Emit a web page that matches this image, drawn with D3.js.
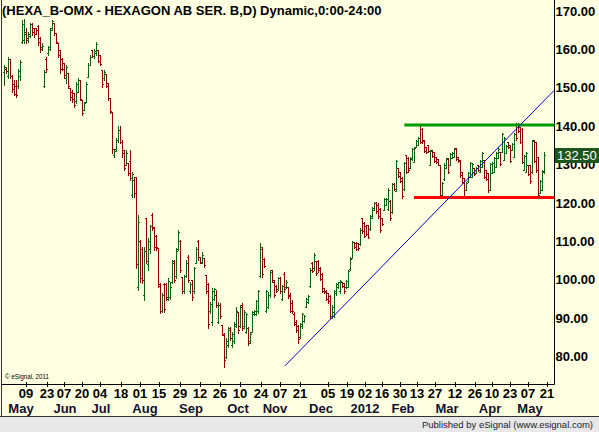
<!DOCTYPE html>
<html>
<head>
<meta charset="utf-8">
<script src="https://cdn.jsdelivr.net/npm/d3@7"></script>
<style>
  html, body { margin: 0; padding: 0; background: #ffffe1; }
  svg { display: block; font-family: "Liberation Sans", Arial, sans-serif; }
</style>
</head>
<body>
<div id="chart"></div>
<script>
const width = 599, height = 432;
const plot = { left: 1.5, right: 554.5, top: 0, bottom: 384.5 };

// daily bars, HEXA B, 20 Apr 2011 .. 16 May 2012 (index = trading day)
const opens = [
  154.0,155.0,153.0,157.5,153.0,151.0,150.5,150.5,153.0,162.0,
  162.5,164.5,162.5,163.5,166.5,165.5,165.5,166.0,163.0,160.5,
  150.5,157.5,159.0,160.0,165.5,167.0,164.3,161.7,159.8,157.5,
  156.5,152.5,153.9,150.0,149.0,148.6,146.5,149.0,152.0,146.8,
  144.2,146.3,152.8,156.0,159.8,158.3,159.0,159.8,158.5,154.6,
  152.5,153.5,151.3,147.3,143.7,132.5,134.0,136.5,139.0,136.0,
  133.8,130.0,130.4,131.0,122.0,126.0,126.8,98.0,110.0,108.0,
  96.0,116.0,104.0,108.0,117.0,113.8,111.5,108.3,99.0,92.0,
  99.0,99.0,95.0,95.5,99.5,105.0,101.0,108.0,110.0,100.8,
  97.0,101.0,106.0,97.0,100.0,97.0,104.5,110.0,105.9,104.5,
  105.7,101.3,99.0,92.0,89.0,95.0,96.0,89.0,93.5,88.2,
  85.5,80.0,83.0,87.5,83.0,84.0,88.0,91.5,88.0,93.5,
  88.0,86.5,87.5,84.0,86.5,91.0,91.0,92.0,101.0,108.0,
  105.5,92.0,93.0,96.0,102.5,99.5,98.5,97.5,100.5,95.0,
  101.5,98.0,98.0,96.0,94.0,91.0,89.0,88.0,85.0,88.0,
  89.2,93.0,94.2,98.5,104.5,103.0,105.0,105.0,103.0,101.5,
  97.8,97.0,96.5,95.8,90.5,91.5,96.5,98.0,97.0,99.4,
  99.2,98.0,98.2,102.7,105.8,109.9,109.6,109.5,109.2,116.0,
  114.8,114.0,114.2,113.2,116.2,118.3,120.0,119.5,118.5,116.0,
  118.3,119.6,118.5,120.6,117.6,125.0,123.2,129.0,128.0,126.6,
  123.6,132.4,131.8,129.2,131.4,130.8,134.7,135.2,140.2,139.4,
  136.3,134.5,135.0,130.0,133.7,133.2,131.9,131.4,129.8,121.8,
  126.2,129.2,131.6,130.0,131.8,132.1,134.2,131.9,131.1,128.0,
  126.4,123.5,125.6,126.9,126.9,129.0,127.9,129.9,128.2,129.5,
  131.1,128.5,127.7,123.5,127.9,128.2,129.5,131.8,133.2,133.4,
  131.3,133.1,135.8,135.0,133.9,132.1,140.7,140.7,139.7,139.4,
  128.7,128.2,129.8,129.8,128.0,136.3,135.8,131.9,122.7,123.5,128.0
];
const highs = [
  156.0,155.5,158.0,157.5,153.3,152.0,152.0,155.0,157.2,167.7,
  168.0,165.6,164.5,167.0,167.0,165.6,165.6,166.4,163.2,161.7,
  154.6,158.0,161.0,165.6,167.7,167.0,164.3,161.7,159.8,157.8,
  156.5,156.0,153.9,150.0,149.4,148.6,151.5,152.5,152.0,146.8,
  146.3,151.5,156.5,158.5,159.8,160.0,162.0,159.8,158.5,154.6,
  154.6,153.5,151.3,147.3,143.7,134.0,137.0,140.0,140.0,136.5,
  133.8,133.8,130.4,133.8,128.1,126.8,126.8,116.9,110.4,108.5,
  108.5,116.1,110.9,114.3,117.4,113.8,111.7,108.3,99.2,96.6,
  99.2,99.2,100.5,99.5,105.2,105.2,108.3,113.0,110.4,100.8,
  101.3,105.2,106.5,99.5,100.0,103.4,108.5,110.4,105.9,107.2,
  105.7,101.3,99.2,94.2,97.9,97.9,97.3,94.2,94.0,88.2,
  86.1,84.8,87.7,87.7,86.4,89.0,92.9,91.6,93.4,94.0,
  92.1,91.4,87.7,86.4,92.0,92.1,94.7,97.3,109.6,108.5,
  105.7,97.3,96.8,102.6,102.6,100.0,98.6,100.8,100.8,98.6,
  102.0,100.0,98.1,96.6,94.7,91.6,89.5,88.2,88.8,91.3,
  90.8,95.3,96.0,103.0,104.6,107.0,105.0,105.2,103.4,101.8,
  97.9,97.3,96.6,96.0,93.4,97.3,99.2,99.5,100.0,99.5,
  99.2,100.0,102.6,105.9,110.0,109.9,109.9,109.6,113.5,116.1,
  115.0,114.3,114.3,116.9,118.9,120.2,120.2,120.0,118.7,116.1,
  121.3,121.3,124.0,120.8,125.2,125.2,131.2,129.1,128.0,126.8,
  130.7,132.5,132.0,132.0,134.3,134.6,136.4,137.2,140.3,139.5,
  136.4,134.6,135.1,133.8,133.8,133.3,132.0,131.5,129.9,125.5,
  130.4,131.7,131.7,133.0,133.3,134.3,134.3,132.0,131.2,128.1,
  126.5,125.5,128.1,130.7,130.4,129.1,129.4,130.0,131.2,133.3,
  131.2,128.6,127.8,130.4,130.7,132.0,133.3,134.3,133.3,138.2,
  137.2,135.1,135.9,135.1,135.6,138.2,140.8,140.8,139.8,139.5,
  132.5,133.3,129.9,129.9,136.4,136.4,135.9,132.0,126.0,128.6,133.3
];
const lows = [
  150.6,153.8,152.5,152.5,149.0,148.0,147.6,150.0,152.0,161.7,
  161.7,161.7,162.0,163.2,163.8,163.2,164.0,161.1,159.3,159.8,
  150.2,154.1,158.5,159.8,165.1,163.8,161.7,158.0,153.9,154.6,
  152.5,151.3,150.0,146.8,146.3,145.0,146.0,148.9,146.8,142.9,
  144.2,146.3,152.8,155.9,158.0,157.8,158.5,156.7,155.9,150.2,
  152.0,150.2,146.8,143.4,133.0,132.0,133.5,136.0,135.5,132.0,
  128.6,129.9,127.3,126.0,121.6,121.6,103.1,97.3,99.5,99.2,
  94.7,104.4,102.6,107.0,113.0,107.8,107.8,98.1,91.4,91.6,
  91.6,94.7,94.7,95.0,99.2,99.5,100.5,107.8,102.0,96.6,
  96.6,100.8,99.5,96.6,94.7,96.6,104.4,105.2,104.4,104.4,
  103.4,96.6,87.5,91.4,88.2,94.7,92.9,88.8,90.0,85.6,
  77.3,79.6,82.5,84.3,82.5,83.5,87.7,86.1,87.7,86.9,
  87.5,86.1,83.0,83.5,86.4,90.8,90.8,91.3,100.8,100.8,
  103.4,91.6,92.6,95.5,99.5,95.5,96.8,97.3,96.6,94.7,
  96.8,97.9,95.3,91.6,91.3,88.2,86.4,83.5,84.8,87.5,
  89.0,92.9,94.0,98.0,102.0,102.6,101.3,102.0,100.0,96.8,
  96.6,94.7,94.0,90.0,90.0,90.3,96.0,97.9,96.6,98.1,
  96.6,97.9,98.1,102.6,105.7,108.3,107.8,107.8,109.1,112.2,
  111.1,111.7,110.9,113.0,116.1,118.2,117.4,116.0,112.5,114.3,
  118.2,119.5,118.2,115.6,117.4,123.4,123.0,126.8,125.5,121.3,
  123.4,127.8,128.1,129.0,131.2,130.7,134.6,135.1,135.6,135.6,
  133.3,133.0,133.3,129.9,132.0,130.7,130.4,129.8,121.6,121.6,
  126.0,129.1,127.8,129.9,131.7,132.0,131.2,130.7,126.8,125.2,
  121.3,123.4,125.5,126.8,126.8,127.3,127.8,128.3,128.1,129.4,
  126.5,126.0,122.9,123.4,127.8,128.1,129.4,131.7,129.9,133.3,
  131.2,133.0,134.3,130.7,133.8,132.0,136.4,138.5,135.6,130.4,
  128.6,128.1,127.3,125.2,127.8,130.7,128.1,121.6,122.6,123.4,127.8
];
const closes = [
  155.5,154.3,157.5,153.0,149.6,148.5,148.2,154.5,156.8,166.5,
  164.0,163.0,164.0,166.5,164.5,164.0,165.0,162.0,160.0,161.0,
  154.0,155.0,160.5,165.0,167.3,164.3,162.0,158.5,155.0,155.0,
  153.3,155.5,150.5,147.5,147.0,145.5,151.0,152.0,147.0,143.5,
  146.0,151.0,156.0,158.0,158.3,159.5,161.5,157.0,156.2,151.0,
  154.0,150.5,147.3,144.0,134.0,133.5,136.5,139.0,136.0,133.0,
  129.0,133.0,127.8,126.5,127.5,122.5,104.0,115.0,100.5,100.0,
  107.5,105.0,110.0,114.0,113.5,108.5,108.5,98.5,92.0,96.0,
  92.5,95.5,99.8,98.0,104.5,100.0,107.5,112.5,102.5,97.0,
  101.0,104.5,100.0,99.0,95.5,103.0,108.0,106.0,104.6,106.5,
  103.8,97.0,88.5,93.8,97.0,97.5,93.5,93.5,90.5,86.0,
  79.0,84.0,87.0,84.8,86.0,88.5,92.0,87.0,93.0,87.5,
  91.5,91.0,83.5,86.0,91.5,92.0,94.5,97.0,108.5,101.5,
  103.6,97.0,96.0,102.0,100.0,96.0,97.0,100.5,97.0,98.3,
  97.5,99.5,95.8,92.0,91.8,88.6,86.8,84.5,88.5,91.0,
  90.5,95.0,95.8,102.5,102.3,106.5,101.8,102.5,100.3,97.2,
  96.8,95.0,94.4,90.6,93.0,97.0,99.0,99.3,99.8,98.3,
  97.0,99.8,102.3,105.5,109.8,108.5,108.0,108.2,113.0,112.6,
  111.5,112.0,111.2,116.5,118.6,120.0,117.8,116.5,113.0,114.5,
  121.0,121.0,123.5,116.0,125.0,123.6,131.0,127.0,125.8,121.8,
  130.5,128.2,128.5,131.8,134.0,134.3,136.2,137.0,136.0,136.2,
  133.6,133.3,133.6,133.6,132.2,131.0,130.6,130.0,122.0,125.2,
  130.0,131.5,128.2,132.8,133.0,134.0,131.5,130.9,127.2,125.5,
  121.8,125.3,127.9,130.4,130.1,127.5,129.2,128.5,131.0,133.0,
  126.8,126.3,123.3,130.1,130.5,131.8,133.0,134.0,130.2,138.0,
  137.0,134.9,134.5,131.0,135.4,138.0,136.8,138.8,136.0,130.8,
  132.3,133.0,127.6,125.6,136.2,131.0,128.5,122.0,125.8,128.4,132.5
];

const priceTicks = [80, 90, 100, 110, 120, 130, 140, 150, 160, 170];
const dayLabels = ['09','23','07','20','04','18','01','15','29','12','26','10','24','07',
                   '21','05','19','02','16','30','13','27','12','26','10','23','07','21'];
const dayIndex = [11,21.5,30,39,48,58.5,68,77.5,88,98,108,118,128.5,138,
                  148,162,171.5,180.5,189,198,206.5,215.5,225.5,235.5,244,253,262,271.5];
const monthLabels = ['May','Jun','Jul','Aug','Sep','Oct','Nov','Dec','2012','Feb','Mar','Apr','May'];
const monthIndex = [8.5,30.5,48.5,70.5,93.5,117,135.5,158.5,180.5,199.5,221.5,243,263];

// drawn study lines
const resistance = { from: 200.2, level: 140.3 };
const support = { from: 205, level: 121.4 };
const trendStart = [140.5, 77.6], trendEnd = [275, 149.3];
const lastPrice = 132.50;

const upColor = '#0a650a', downColor = '#8e0000';

const xScale = d3.scaleLinear().domain([0, 275]).range([4, 554]);
const yScale = d3.scaleLinear().domain([80, 170]).range([356.6, 11]);

function drawFrame(svg) {
    svg.append('rect').attr('width', width).attr('height', height).attr('fill', '#ffffe1');
    svg.append('rect').attr('x', 0).attr('y', 417).attr('width', width).attr('height', 15).attr('fill', '#e8e8e8');
    svg.append('line').attr('x1', 0).attr('x2', width).attr('y1', 416.5).attr('y2', 416.5)
        .attr('stroke', '#333').attr('stroke-width', 1);
    svg.append('line').attr('x1', plot.left).attr('x2', plot.left).attr('y1', 0).attr('y2', 416.5)
        .attr('stroke', '#333');
    svg.append('line').attr('x1', plot.right).attr('x2', plot.right).attr('y1', 0).attr('y2', plot.bottom)
        .attr('stroke', '#000');
    svg.append('line').attr('x1', plot.left).attr('x2', plot.right).attr('y1', plot.bottom).attr('y2', plot.bottom)
        .attr('stroke', '#000');
}

function drawBars(svg) {
    const g = svg.append('g').attr('shape-rendering', 'crispEdges');
    const idx = d3.range(closes.length);
    const bar = g.selectAll('.bar').data(idx).enter().append('g')
        .attr('class', 'bar')
        .attr('stroke', i => closes[i] >= opens[i] ? upColor : downColor);
    bar.append('line')
        .attr('x1', i => Math.round(xScale(i)) + 0.5).attr('x2', i => Math.round(xScale(i)) + 0.5)
        .attr('y1', i => Math.round(yScale(highs[i]))).attr('y2', i => Math.round(yScale(lows[i])) + 1);
    bar.append('line')
        .attr('x1', i => Math.round(xScale(i)) - 1).attr('x2', i => Math.round(xScale(i)) + 1)
        .attr('y1', i => Math.round(yScale(opens[i])) + 0.5).attr('y2', i => Math.round(yScale(opens[i])) + 0.5);
    bar.append('line')
        .attr('x1', i => Math.round(xScale(i))).attr('x2', i => Math.round(xScale(i)) + 2)
        .attr('y1', i => Math.round(yScale(closes[i])) + 0.5).attr('y2', i => Math.round(yScale(closes[i])) + 0.5);
}

function drawStudies(svg) {
    svg.append('line')
        .attr('x1', xScale(resistance.from)).attr('x2', plot.right)
        .attr('y1', yScale(resistance.level)).attr('y2', yScale(resistance.level))
        .attr('stroke', '#009a00').attr('stroke-width', 3);
    svg.append('line')
        .attr('x1', xScale(support.from)).attr('x2', plot.right)
        .attr('y1', yScale(support.level)).attr('y2', yScale(support.level))
        .attr('stroke', '#ff0000').attr('stroke-width', 3);
    svg.append('line')
        .attr('x1', xScale(trendStart[0])).attr('y1', yScale(trendStart[1]))
        .attr('x2', xScale(trendEnd[0])).attr('y2', yScale(trendEnd[1]))
        .attr('stroke', '#0000c8').attr('stroke-width', 1);
}

function drawPriceAxis(svg) {
    const axis = svg.append('g').attr('class', 'y axis')
        .attr('transform', `translate(${plot.right}, 0)`)
        .call(d3.axisRight(yScale).tickValues(priceTicks).tickFormat(d3.format('.2f')).tickSize(0).tickPadding(1));
    axis.select('.domain').remove();
    axis.selectAll('text')
        .attr('font-family', '"Liberation Sans", Arial, sans-serif')
        .attr('font-size', 13).attr('font-weight', 'bold').attr('fill', '#000');

    svg.append('rect')
        .attr('x', plot.right + 0.5).attr('y', Math.round(yScale(lastPrice)) - 7)
        .attr('width', width - plot.right).attr('height', 15)
        .attr('fill', '#1d561d');
    svg.append('text')
        .attr('x', plot.right + 2.5).attr('y', yScale(lastPrice) + 5)
        .attr('font-size', 13).attr('fill', '#fff')
        .text(lastPrice.toFixed(2));
}

function drawTimeAxis(svg) {
    const g = svg.append('g').attr('class', 'x axis');
    g.selectAll('.tick').data(dayIndex).enter().append('line')
        .attr('x1', d => Math.round(xScale(d)) + 0.5).attr('x2', d => Math.round(xScale(d)) + 0.5)
        .attr('y1', plot.bottom - 3).attr('y2', plot.bottom + 2)
        .attr('stroke', '#000').attr('shape-rendering', 'crispEdges');
    g.selectAll('.day').data(dayLabels).enter().append('text')
        .attr('class', 'day')
        .attr('x', (d, i) => xScale(dayIndex[i]))
        .attr('y', 398)
        .attr('text-anchor', 'middle')
        .attr('font-size', 13).attr('font-weight', 'bold').attr('fill', '#000')
        .text(d => d);
    g.selectAll('.month').data(monthLabels).enter().append('text')
        .attr('class', 'month')
        .attr('x', (d, i) => xScale(monthIndex[i]))
        .attr('y', 413)
        .attr('text-anchor', 'middle')
        .attr('font-size', 13).attr('font-weight', 'bold').attr('fill', '#101030')
        .text(d => d);
}

function drawTexts(svg) {
    svg.append('text')
        .attr('x', 2).attr('y', 15)
        .attr('font-size', 13).attr('font-weight', 'bold').attr('fill', '#000')
        .text('(HEXA_B-OMX - HEXAGON AB SER. B,D) Dynamic,0:00-24:00');
    svg.append('text')
        .attr('x', 5).attr('y', 379)
        .attr('font-size', 7.5).attr('fill', '#000')
        .attr('textLength', 44).attr('lengthAdjust', 'spacingAndGlyphs')
        .text('\u00a9 eSignal, 2011');
    svg.append('text')
        .attr('x', 593).attr('y', 428)
        .attr('text-anchor', 'end')
        .attr('font-size', 9.5).attr('fill', '#222')
        .text('Published by eSignal (www.esignal.com)');
}

function drawChart() {
    const svg = d3.select('#chart').append('svg')
        .attr('width', width)
        .attr('height', height);

    drawFrame(svg);
    drawBars(svg);
    drawStudies(svg);
    drawPriceAxis(svg);
    drawTimeAxis(svg);
    drawTexts(svg);
}

drawChart();
</script>
</body>
</html>
